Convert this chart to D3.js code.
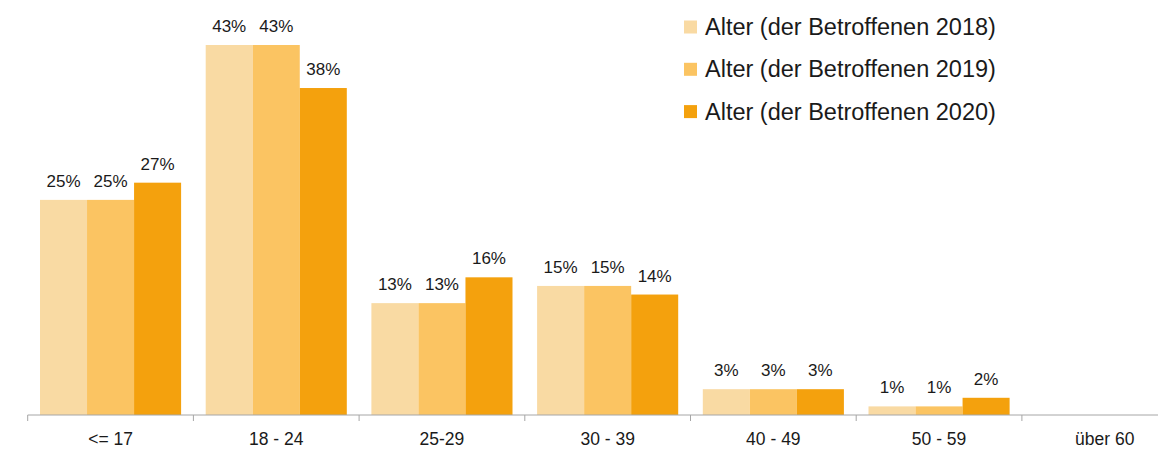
<!DOCTYPE html>
<html><head><meta charset="utf-8">
<script src="https://cdn.jsdelivr.net/npm/d3@7"></script>
<style>body{margin:0;background:#fff}svg{display:block}</style>
</head><body>
<svg id="c" width="1158" height="450"></svg>
<script>
const categories = ["<= 17","18 - 24","25-29","30 - 39","40 - 49","50 - 59","über 60"];
const seriesNames = ["Alter (der Betroffenen 2018)","Alter (der Betroffenen 2019)","Alter (der Betroffenen 2020)"];
const values2018 = [25, 43, 13, 15, 3, 1, null];
const values2019 = [25, 43, 13, 15, 3, 1, null];
const values2020 = [27, 38, 16, 14, 3, 2, null];
const colors = ["#F9DAA3","#FBC462","#F4A10D"];
const series = [values2018, values2019, values2020];

const svg = d3.select("#c");
const font = "'Liberation Sans', Arial, sans-serif";
const x = d3.scaleBand().domain(categories).range([27.7, 27.7 + 7*165.7]).paddingInner(0).paddingOuter(0);
const inner = 12.3;
const x1 = d3.scaleBand().domain(d3.range(3)).range([inner, x.bandwidth()-inner]).padding(0);
const y = d3.scaleLinear().domain([0, 43]).range([415, 45]);

series.forEach((vals, si) => {
  const g = svg.append("g");
  const data = categories.map((c,i)=>({c, v: vals[i]})).filter(d=>d.v!=null);
  g.selectAll("rect").data(data).join("rect")
    .attr("x", d=>x(d.c)+x1(si))
    .attr("y", d=>y(d.v))
    .attr("width", x1.bandwidth())
    .attr("height", d=>y(0)-y(d.v))
    .attr("fill", colors[si]);
  g.selectAll("text").data(data).join("text")
    .attr("x", d=>x(d.c)+x1(si)+x1.bandwidth()/2)
    .attr("y", d=>y(d.v)-13)
    .attr("text-anchor","middle")
    .attr("font-family", font).attr("font-size", 17).attr("fill","#1a1a1a")
    .text(d=>d3.format(".0f")(d.v)+"%");
});

const axis = d3.axisBottom(x).tickSize(0).tickPadding(0);
const ag = svg.append("g").attr("transform","translate(0,415)").call(axis);
ag.select(".domain").attr("stroke","#a6a6a6").attr("d", `M${x.range()[0]},0H${x.range()[1]}`);
ag.selectAll(".tick text").attr("font-family", font).attr("font-size", 17.5).attr("fill","#1a1a1a").attr("dy",null).attr("y", 30);
const bounds = d3.range(categories.length+1).map(i=>x.range()[0]+i*x.step());
ag.selectAll("line.b").data(bounds).join("line").attr("class","b")
  .attr("x1",d=>d).attr("x2",d=>d).attr("y1",0).attr("y2",6)
  .attr("stroke","#a6a6a6");

const lg = svg.append("g");
seriesNames.forEach((n,i)=>{
  const yy = 27 + i*42.3;
  lg.append("rect").attr("x",684).attr("y",yy-6.5).attr("width",13).attr("height",13).attr("fill",colors[i]);
  lg.append("text").attr("x",705).attr("y",yy+8).attr("font-family",font).attr("font-size",23.5).attr("fill","#1a1a1a").text(n);
});
</script>
</body></html>
